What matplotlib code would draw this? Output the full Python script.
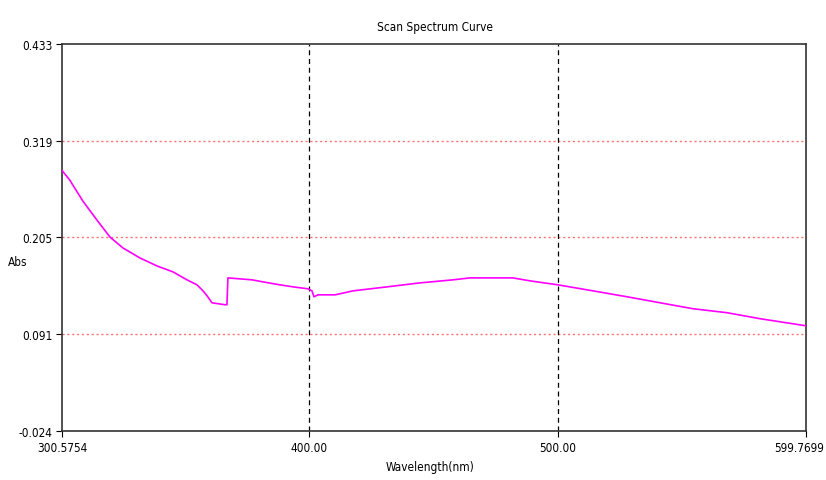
import matplotlib
matplotlib.use("Agg")
import matplotlib.pyplot as plt
import matplotlib.font_manager as fm
import matplotlib.transforms as mtransforms

wavelength = [300.58, 303.79, 305.0, 309.02, 314.65, 319.88, 325.11, 331.94, 338.78, 345.21,
              350.84, 354.86, 357.28, 358.89, 360.9, 366.1, 366.9, 367.3, 377.0, 381.4,
              388.2, 393.5, 399.5, 401.1, 401.9, 403.5, 410.4, 417.6, 431.3, 444.5,
              457.8, 464.6, 481.9, 488.8, 500.0, 514.1, 527.8, 541.1, 554.3, 568.0,
              581.3, 599.4, 599.77]
absorb = [0.2837, 0.2720, 0.2661, 0.2473, 0.2250, 0.2050, 0.1921, 0.1803, 0.1709, 0.1639,
          0.1545, 0.1486, 0.1415, 0.1357, 0.1274, 0.1251, 0.1251, 0.1568, 0.1545, 0.1521,
          0.1486, 0.1462, 0.1439, 0.1415, 0.1345, 0.1368, 0.1368, 0.1415, 0.1462, 0.1509,
          0.1545, 0.1568, 0.1568, 0.1533, 0.1486, 0.1415, 0.1345, 0.1274, 0.1204, 0.1157,
          0.1086, 0.1004, 0.1000]

x_ticks = [300.5754, 400.0, 500.0, 599.7699]
x_tick_labels = ["300.5754", "400.00", "500.00", "599.7699"]
y_ticks = [-0.024, 0.091, 0.205, 0.319, 0.433]
y_tick_labels = ["-0.024", "0.091", "0.205", "0.319", "0.433"]
vgrid = [400.0, 500.0]
hgrid = [0.091, 0.205, 0.319]

names = {f.name for f in fm.fontManager.ttflist}
fam = "Liberation Sans Narrow" if "Liberation Sans Narrow" in names else "DejaVu Sans"
plt.rcParams["font.family"] = [fam, "DejaVu Sans"]
plt.rcParams["font.stretch"] = "condensed"

fig = plt.figure(figsize=(8.26, 4.81), dpi=100)
ax = fig.add_axes([62/826, 1-432/481, (806-62)/826, (432-45)/481])

for g in hgrid:
    ax.axhline(g, color="#ff7070", linestyle=(0, (1.5, 2)), linewidth=1.0, zorder=1)
for g in vgrid:
    ax.axvline(g, color="black", linestyle=(0, (4, 3)), linewidth=0.9, zorder=1)

ax.plot(wavelength, absorb, color="#ff00ff", linewidth=1.2, zorder=3)

ax.set_xlim(x_ticks[0], x_ticks[-1])
ax.set_ylim(y_ticks[0], y_ticks[-1])
ax.set_xticks(x_ticks)
ax.set_xticklabels(x_tick_labels)
ax.set_yticks(y_ticks)
ax.set_yticklabels(y_tick_labels)
ax.tick_params(direction="out", length=4, width=0.8, labelsize=8.5, pad=3, colors="black")
last = ax.get_xticklabels()[-1]
last.set_horizontalalignment("right")
last.set_transform(last.get_transform() + mtransforms.ScaledTranslation(18/100, 0, fig.dpi_scale_trans))
for s in ax.spines.values():
    s.set_linewidth(1.2)
    s.set_color("#333333")

fig.text(435/826, 1-27/481, "Scan Spectrum Curve", ha="center", va="center", fontsize=8.5)
fig.text(430/826, 1-468/481, "Wavelength(nm)", ha="center", va="center", fontsize=8.5)
fig.text(18/826, 1-263/481, "Abs", ha="center", va="center", fontsize=8.5)

fig.savefig("out.png", dpi=100)
